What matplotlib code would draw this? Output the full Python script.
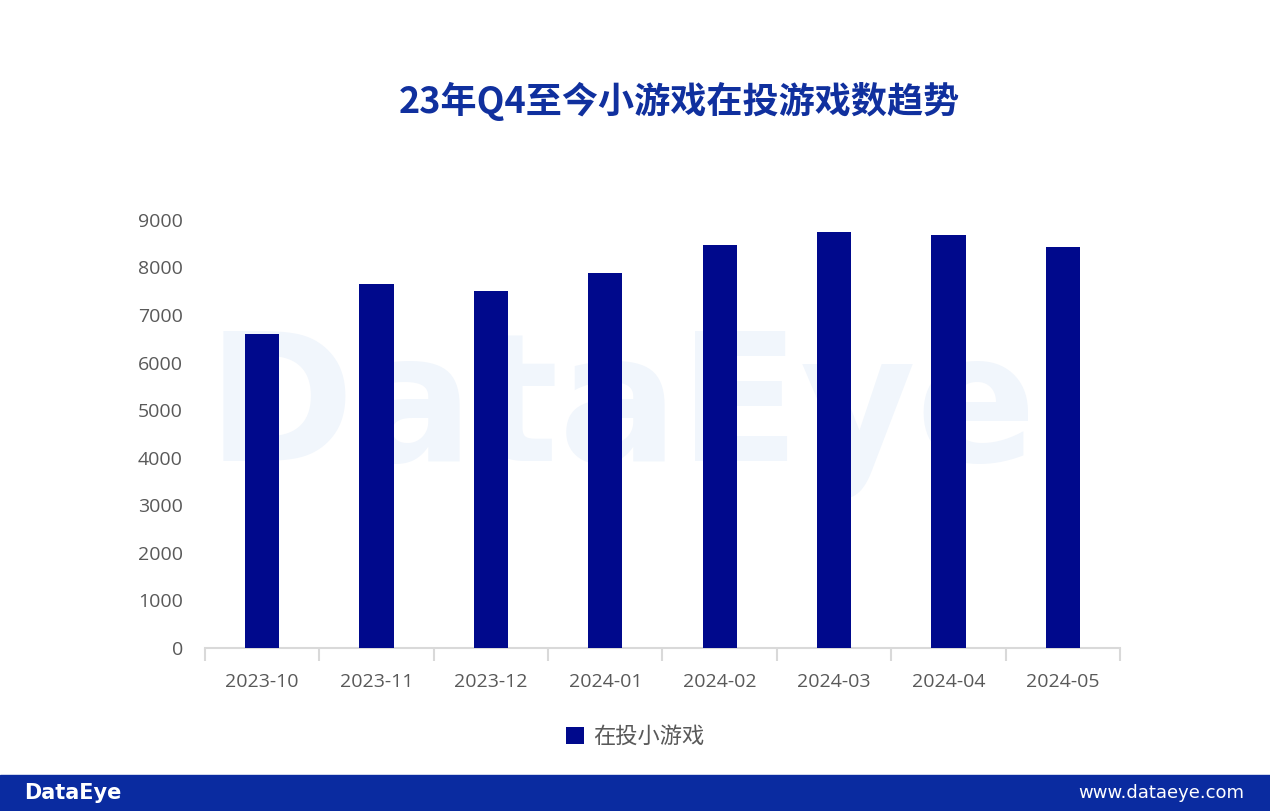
import matplotlib.pyplot as plt
import numpy as np

plt.rcParams['font.family'] = ['Noto Sans CJK SC', 'DejaVu Sans']

months = ['2023-10', '2023-11', '2023-12', '2024-01', '2024-02', '2024-03', '2024-04', '2024-05']
games = [6600, 7640, 7510, 7890, 8460, 8740, 8680, 8430]
yticks = [0, 1000, 2000, 3000, 4000, 5000, 6000, 7000, 8000, 9000]

fig = plt.figure(figsize=(12.7, 8.11), dpi=100)

# watermark behind the chart
fig.text(0.163, 0.49, 'DataEye', fontsize=128, color='#f1f6fc', fontweight='bold',
         family='DejaVu Sans', ha='left', va='center', zorder=0)

ax = fig.add_axes([0.1614, 0.201, 0.7205, 0.528])
ax.set_zorder(2)
ax.patch.set_alpha(0)
x = np.arange(len(months))
ax.bar(x, games, width=0.3, color='#00098c', label='在投小游戏', zorder=3)

ax.set_xlim(-0.5, len(months) - 0.5)
ax.set_ylim(0, 9000)
ax.set_yticks(yticks)
ax.set_yticklabels([str(v) for v in yticks], fontsize=14, color='#595959', family='Open Sans')
ax.set_xticks(x)
ax.set_xticklabels(months, fontsize=14, color='#595959', family='Open Sans')
ax.tick_params(axis='y', length=0, pad=16)
ax.tick_params(axis='x', which='major', length=0, pad=18)
ax.set_xticks(np.arange(-0.5, len(months)), minor=True)
ax.tick_params(axis='x', which='minor', length=9, color='#d9d9d9', width=1.5)

for s in ['top', 'right', 'left']:
    ax.spines[s].set_visible(False)
ax.spines['bottom'].set_color('#d9d9d9')
ax.spines['bottom'].set_linewidth(1.5)

fig.text(0.535, 0.875, '23年Q4至今小游戏在投游戏数趋势', fontsize=26, color='#10309e',
         fontweight='bold', ha='center', va='center')

leg = fig.legend(loc='center', bbox_to_anchor=(0.5, 0.092), frameon=False, fontsize=16,
                 handlelength=0.8, handleheight=0.8, handletextpad=0.4)
for t in leg.get_texts():
    t.set_color('#595959')

# footer band
band = plt.Rectangle((0, 0), 1, 36 / 811, transform=fig.transFigure, color='#0a2ba0', zorder=1)
fig.patches.append(band)
fig.text(0.019, 18 / 811, 'DataEye', fontsize=15, fontweight='bold', color='white',
         family='DejaVu Sans', ha='left', va='center', zorder=2)
fig.text(0.98, 18 / 811, 'www.dataeye.com', fontsize=13, color='white',
         family='DejaVu Sans', ha='right', va='center', zorder=2)

fig.savefig('out.png', dpi=100)
